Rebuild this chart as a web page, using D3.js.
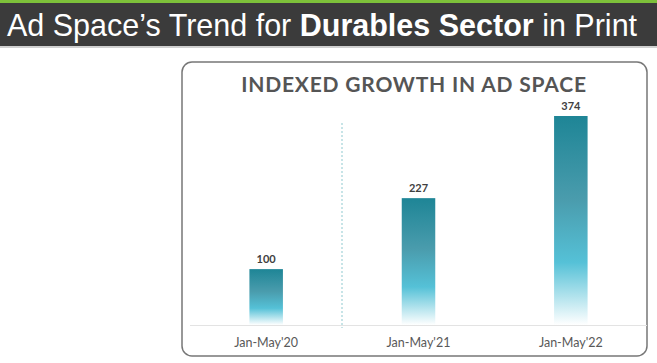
<!DOCTYPE html>
<html>
<head>
<meta charset="utf-8">
<script src="https://cdn.jsdelivr.net/npm/d3@7"></script>
<style>
  html, body { margin: 0; padding: 0; background: #fff; }
</style>
</head>
<body>
<div id="plot"></div>
<script>
// chart values
const categories = ["Jan-May'20", "Jan-May'21", "Jan-May'22"];
const values = [100, 227, 374];

const width = 657, height = 363;

const svg = d3.select("#plot").append("svg")
    .attr("width", width)
    .attr("height", height);

// header band
svg.append("rect").attr("x", 0).attr("y", 0).attr("width", width).attr("height", 3).attr("fill", "#7dc13a");
svg.append("rect").attr("x", 0).attr("y", 3).attr("width", width).attr("height", 43).attr("fill", "#3b3b3b");
svg.append("rect").attr("x", 0).attr("y", 46).attr("width", width).attr("height", 2).attr("fill", "#d0d0d0");

const head = svg.append("text")
    .attr("x", 7)
    .attr("y", 36)
    .attr("fill", "#fff")
    .style("font-family", "'Liberation Sans', Arial, sans-serif")
    .style("font-size", "30.5px");
head.append("tspan").text("Ad Space\u2019s Trend for ");
head.append("tspan").style("font-weight", "bold").text("Durables Sector");
head.append("tspan").text(" in Print");

// chart box
svg.append("rect")
    .attr("x", 182).attr("y", 62)
    .attr("width", 465).attr("height", 294)
    .attr("rx", 10)
    .attr("fill", "#fff")
    .attr("stroke", "#777")
    .attr("stroke-width", 1.5);

svg.append("text")
    .attr("x", 414)
    .attr("y", 92)
    .attr("text-anchor", "middle")
    .attr("fill", "#555")
    .style("font-family", "Lato, 'Open Sans', sans-serif")
    .style("font-size", "21px")
    .style("font-weight", "bold")
    .style("letter-spacing", "0.8px")
    .text("INDEXED GROWTH IN AD SPACE");

const baseY = 325;

const x = d3.scaleBand()
    .domain(categories)
    .range([190, 647])
    .paddingInner(0.78)
    .paddingOuter(0.39);

const y = d3.scaleLinear()
    .domain([0, 374])
    .range([baseY, 116]);

const defs = svg.append("defs");
const grad = defs.append("linearGradient")
    .attr("id", "barGrad")
    .attr("x1", "0").attr("y1", "0")
    .attr("x2", "0").attr("y2", "1");
[[0, "#1e8596"], [0.4, "#4a9cad"], [0.7, "#55c1d7"], [1, "#ffffff"]].forEach(s => {
    grad.append("stop").attr("offset", s[0]).attr("stop-color", s[1]);
});

// divider
svg.append("line")
    .attr("x1", 342).attr("x2", 342)
    .attr("y1", 123).attr("y2", 328)
    .attr("stroke", "#8fc9cf")
    .attr("stroke-width", 1)
    .attr("stroke-dasharray", "2,2");

// baseline
svg.append("line")
    .attr("x1", 190).attr("x2", 647)
    .attr("y1", baseY + 0.5).attr("y2", baseY + 0.5)
    .attr("stroke", "#e3e3e3");

svg.selectAll(".bar")
    .data(values)
    .enter().append("rect")
    .attr("class", "bar")
    .attr("x", (d, i) => x(categories[i]))
    .attr("y", d => y(d))
    .attr("width", x.bandwidth())
    .attr("height", d => baseY - y(d))
    .attr("fill", "url(#barGrad)");

svg.selectAll(".val")
    .data(values)
    .enter().append("text")
    .attr("class", "val")
    .attr("x", (d, i) => x(categories[i]) + x.bandwidth() / 2)
    .attr("y", d => y(d) - 6)
    .attr("text-anchor", "middle")
    .attr("fill", "#404040")
    .style("font-family", "Lato, 'Open Sans', sans-serif")
    .style("font-size", "11px")
    .style("font-weight", "bold")
    .text(d => d);

svg.selectAll(".cat")
    .data(categories)
    .enter().append("text")
    .attr("class", "cat")
    .attr("x", d => x(d) + x.bandwidth() / 2)
    .attr("y", 347)
    .attr("text-anchor", "middle")
    .attr("fill", "#595959")
    .style("font-family", "Lato, 'Open Sans', sans-serif")
    .style("font-size", "12.5px")
    .text(d => d);
</script>
</body>
</html>
